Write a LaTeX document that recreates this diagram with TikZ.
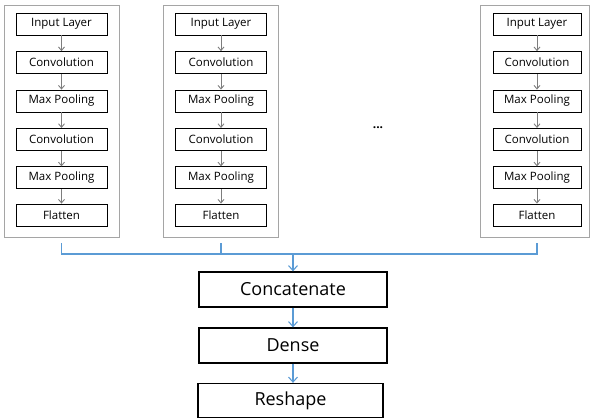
\documentclass[tikz,border=0pt]{standalone}
\usepackage{fontspec}
\setmainfont{Open Sans}
\usepackage{xcolor}
\usetikzlibrary{arrows.meta,positioning}
\definecolor{linkblue}{RGB}{91,155,213}
\definecolor{framegray}{RGB}{165,165,165}
\definecolor{tipgray}{RGB}{125,125,125}

\begin{document}
\begin{tikzpicture}[x=1pt,y=1pt,yscale=-1,xscale=1,
  layerbox/.style={draw=black,line width=0.9pt,minimum width=91pt,minimum height=22pt,inner sep=0pt,font=\fontsize{11.5}{13}\selectfont},
  mainbox/.style={draw=black,line width=1.3pt,minimum width=188pt,minimum height=35pt,inner sep=0pt,font=\fontsize{18}{21}\selectfont},
  framebox/.style={draw=framegray,line width=0.9pt,inner sep=0pt},
  grayflow/.style={draw=tipgray,line width=0.9pt,-{Straight Barb[length=3.5pt,width=6pt]}},
  blueflow/.style={draw=linkblue,line width=1.1pt},
  bluearrow/.style={blueflow,-{Straight Barb[length=5pt,width=9pt]}}]
  \useasboundingbox (0,0) rectangle (592,418);

  %Shape: Rectangle [frames]
  \node [framebox,minimum width=115pt,minimum height=232pt] (frameA) at (61.5,121) {};
  \node [framebox,minimum width=115pt,minimum height=232pt] (frameB) at (220.5,121) {};
  \node [framebox,minimum width=109pt,minimum height=232pt] (frameC) at (534.5,121) {};

  % Text Node [first branch]
  \node [layerbox] (inA) at (61.5,24) {Input Layer};
  \node [layerbox] (convA1) at (61.5,62.6) {Convolution};
  \node [layerbox] (poolA1) at (61.5,101) {Max Pooling};
  \node [layerbox] (convA2) at (61.5,139.4) {Convolution};
  \node [layerbox] (poolA2) at (61.5,177.8) {Max Pooling};
  \node [layerbox] (flatA) at (61.5,215) {Flatten};
  % Text Node [second branch]
  \node [layerbox] (inB) at (221,24) {Input Layer};
  \node [layerbox] (convB1) at (221,62.6) {Convolution};
  \node [layerbox] (poolB1) at (221,101) {Max Pooling};
  \node [layerbox] (convB2) at (221,139.4) {Convolution};
  \node [layerbox] (poolB2) at (221,177.8) {Max Pooling};
  \node [layerbox] (flatB) at (221,215) {Flatten};
  % Text Node [last branch]
  \node [layerbox,minimum width=88pt] (inC) at (537,24) {Input Layer};
  \node [layerbox,minimum width=88pt] (convC1) at (537,62.6) {Convolution};
  \node [layerbox,minimum width=88pt] (poolC1) at (537,101) {Max Pooling};
  \node [layerbox,minimum width=88pt] (convC2) at (537,139.4) {Convolution};
  \node [layerbox,minimum width=88pt] (poolC2) at (537,177.8) {Max Pooling};
  \node [layerbox,minimum width=88pt] (flatC) at (537,215) {Flatten};

  % Text Node
  \node [font=\bfseries\fontsize{12}{14}\selectfont] (gap) at (378,128) {...};

  %Straight Lines [inside the branches]
  \draw [grayflow] (inA) -- (convA1);
  \draw [grayflow] (convA1) -- (poolA1);
  \draw [grayflow] (poolA1) -- (convA2);
  \draw [grayflow] (convA2) -- (poolA2);
  \draw [grayflow] (poolA2) -- (flatA);
  \draw [grayflow] (inB) -- (convB1);
  \draw [grayflow] (convB1) -- (poolB1);
  \draw [grayflow] (poolB1) -- (convB2);
  \draw [grayflow] (convB2) -- (poolB2);
  \draw [grayflow] (poolB2) -- (flatB);
  \draw [grayflow] (inC) -- (convC1);
  \draw [grayflow] (convC1) -- (poolC1);
  \draw [grayflow] (poolC1) -- (convC2);
  \draw [grayflow] (convC2) -- (poolC2);
  \draw [grayflow] (poolC2) -- (flatC);

  % Text Node [merged part]
  \node [mainbox] (concat) at (293,289.5) {Concatenate};
  \node [mainbox] (dense) at (293,345.5) {Dense};
  \node [mainbox,minimum width=185pt,minimum height=34pt] (reshape) at (290.5,400.5) {Reshape};

  %Straight Lines [joining the branches]
  \coordinate (stemA) at (61.5,243);
  \coordinate (stemB) at (221,243);
  \coordinate (stemC) at (537,243);
  \coordinate (hub) at (293,254);
  \draw [blueflow] (stemA) |- (hub);
  \draw [blueflow] (stemC) |- (hub);
  \draw [blueflow] (stemB) -- (stemB |- hub);
  \draw [bluearrow] (hub) -- (concat);
  \draw [bluearrow] (concat) -- (dense);
  \draw [bluearrow] (dense.south) -- (reshape.north -| dense.south);
\end{tikzpicture}
\end{document}
